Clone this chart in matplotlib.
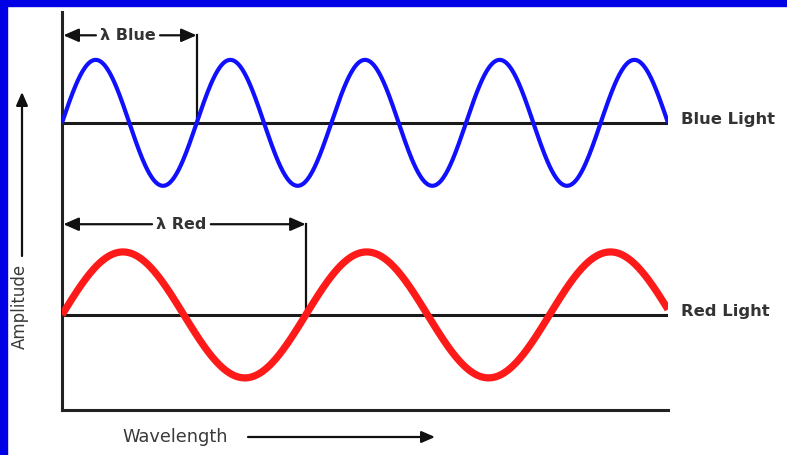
import matplotlib
matplotlib.use("Agg")
import matplotlib.pyplot as plt
from matplotlib.patches import Rectangle
import numpy as np

# datos de la figura (unidades: longitud de onda azul = 1, amplitud = 1)
ondas = ["Blue Light", "Red Light"]
etiquetas_lambda = ["λ Blue", "λ Red"]
longitudes = [1.0, 1.81]
amplitudes = [1.0, 1.0]
lineas_base = [3.05, 0.0]
altura_flecha = [4.44, 1.44]
colores = ["#1010ff", "#ff1a1a"]
grosores = [3.0, 5.2]
x_max = 4.5
y_lim = (-1.51, 4.81)

W, H = 787, 455
fig = plt.figure(figsize=(W / 100, H / 100), dpi=100)
fig.patch.set_facecolor("white")

# marco azul (arriba e izquierda)
fig.patches.append(Rectangle((0, 1 - 6 / H), 1, 6 / H, transform=fig.transFigure,
                             color="#0000e6", zorder=10))
fig.patches.append(Rectangle((0, 0), 7 / W, 1, transform=fig.transFigure,
                             color="#0000e6", zorder=10))

# ejes en pixeles: izquierda 62, derecha 668, arriba 12, abajo 410
ax = fig.add_axes([62 / W, (H - 410) / H, (668 - 62) / W, (410 - 12) / H])
ax.set_xlim(0, x_max)
ax.set_ylim(*y_lim)
for lado in ["top", "right"]:
    ax.spines[lado].set_visible(False)
for lado in ["left", "bottom"]:
    ax.spines[lado].set_linewidth(2.2)
    ax.spines[lado].set_color("#222222")
ax.set_xticks([])
ax.set_yticks([])

fuente = dict(family="DejaVu Sans", weight="bold", color="#333333")
estilo = "-|>,head_length=0.8,head_width=0.35"
flecha = dict(arrowstyle=estilo, color="#111111", lw=1.6, shrinkA=1, shrinkB=0)

for nombre, etq, lam, amp, base, ya, col, lw in zip(ondas, etiquetas_lambda, longitudes,
                                                    amplitudes, lineas_base, altura_flecha,
                                                    colores, grosores):
    x = np.linspace(0, x_max, 800)
    ax.plot([0, x_max], [base, base], color="#1a1a1a", lw=2.2, zorder=2)
    ax.plot(x, base + amp * np.sin(2 * np.pi * x / lam), color=col, lw=lw,
            zorder=3, solid_capstyle="butt")
    # flecha de longitud de onda
    cx = lam * 0.49
    ax.annotate(etq, xy=(0.01, ya), xytext=(cx, ya), ha="center", va="center",
                fontsize=11.5, arrowprops=flecha, annotation_clip=False, **fuente)
    ax.annotate(etq, xy=(lam, ya), xytext=(cx, ya), ha="center", va="center",
                fontsize=11.5, arrowprops=flecha, annotation_clip=False,
                family="DejaVu Sans", weight="bold", color="none")
    ax.plot([lam, lam], [ya, base], color="#111111", lw=1.6, zorder=2)
    ax.text(x_max + 0.1, base + 0.05, nombre, ha="left", va="center",
            fontsize=11.8, clip_on=False, **fuente)

# titulos de los ejes con flechas
fig.text(20 / W, (H - 306) / H, "Amplitude", rotation=90, ha="center", va="center",
         fontsize=12, family="DejaVu Sans", color="#3a3a3a")
ax.annotate("", xy=(22, H - 92), xycoords="figure pixels",
            xytext=(22, H - 256), textcoords="figure pixels",
            arrowprops=dict(arrowstyle=estilo, color="#111111", lw=1.6, shrinkA=0, shrinkB=0))
fig.text(175 / W, (H - 437) / H, "Wavelength", ha="center", va="center",
         fontsize=12.8, family="DejaVu Sans", color="#3a3a3a")
ax.annotate("", xy=(435, H - 437), xycoords="figure pixels",
            xytext=(248, H - 437), textcoords="figure pixels",
            arrowprops=dict(arrowstyle=estilo, color="#111111", lw=1.6, shrinkA=0, shrinkB=0))

fig.savefig("out.png", dpi=100, facecolor="white")
